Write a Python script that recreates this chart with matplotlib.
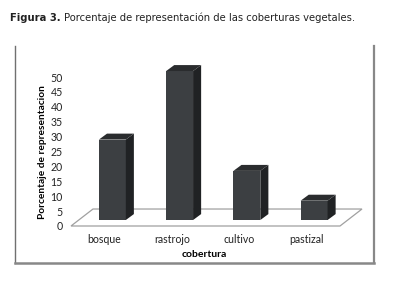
import matplotlib
matplotlib.use('Agg')
import matplotlib.pyplot as plt
from matplotlib import font_manager
from matplotlib.patches import Polygon
from matplotlib.lines import Line2D

categorias = ['bosque', 'rastrojo', 'cultivo', 'pastizal']
porcentajes = [27, 50, 16.5, 6.5]
yticks = [0, 5, 10, 15, 20, 25, 30, 35, 40, 45, 50]

plt.rcParams['font.family'] = ['Lato', 'DejaVu Sans']

# fuentes angostas para el titulo, si existen
angosta_r = angosta_b = None
for f in font_manager.fontManager.ttflist:
    n = f.fname.lower().rsplit('/', 1)[-1]
    if ('narrow' in n or 'condensed' in n) and 'oblique' not in n and 'italic' not in n:
        if 'bold' in n:
            angosta_b = angosta_b or f.fname
        else:
            angosta_r = angosta_r or f.fname

W, H = 409, 295
fig = plt.figure(figsize=(W / 100, H / 100), dpi=100)
fig.patch.set_facecolor('white')

# ejes en pixeles: x 71..340, y 226 (0) .. 77 (50)
ax = fig.add_axes([71 / W, (H - 226) / H, 269 / W, 149 / H])
ax.set_xlim(-0.5, len(categorias) - 0.5)
ax.set_ylim(0, 50)
for s in ax.spines.values():
    s.set_visible(False)
ax.patch.set_alpha(0)

# profundidad del piso y de las barras (en unidades de datos)
piso_dx, piso_dy = 0.327, 5.7
barra_off_x, barra_off_y = 0.115, 2.0
barra_dx, barra_dy = 0.12, 2.0
ancho = 0.40

x0, x1 = -0.5, len(categorias) - 0.5
piso = Polygon([(x0, 0), (x1, 0), (x1 + piso_dx, piso_dy), (x0 + piso_dx, piso_dy)],
               closed=True, facecolor='white', edgecolor='#a0a0a0', lw=0.9,
               clip_on=False, zorder=1)
ax.add_patch(piso)

frente = '#3c3f42'
lado = '#202224'
techo = '#2a2c2e'
for i, v in enumerate(porcentajes):
    xl = i - ancho / 2 + barra_off_x
    xr = xl + ancho
    yb = barra_off_y
    yt = yb + v
    ax.bar(xl + ancho / 2, v, width=ancho, bottom=yb, color=frente,
           clip_on=False, zorder=3)
    ax.add_patch(Polygon([(xr, yb), (xr + barra_dx, yb + barra_dy),
                          (xr + barra_dx, yt + barra_dy), (xr, yt)],
                         closed=True, facecolor=lado, edgecolor='none',
                         clip_on=False, zorder=3))
    ax.add_patch(Polygon([(xl, yt), (xr, yt), (xr + barra_dx, yt + barra_dy),
                          (xl + barra_dx, yt + barra_dy)],
                         closed=True, facecolor=techo, edgecolor='none',
                         clip_on=False, zorder=3))

ax.set_yticks(yticks)
ax.set_xticks(range(len(categorias)))
ax.set_xticklabels(categorias)
ax.tick_params(axis='both', length=0, labelsize=7.6, colors='#222222')
ax.tick_params(axis='y', pad=6)
ax.tick_params(axis='x', pad=6)

ax.set_ylabel('Porcentaje de representacion', fontsize=7.3, fontweight='bold')
ax.yaxis.set_label_coords(-0.089, 0.497)
ax.set_xlabel('cobertura', fontsize=7.5, fontweight='bold')
ax.xaxis.set_label_coords(0.494, -0.163)

# marco del grafico
def px(x, y):
    return x / W, 1 - y / H

for (xa, ya), (xb, yb), c, lw in [((15, 46), (15, 263), '#707070', 1.0),
                                  ((374, 46), (374, 263), '#888888', 1.6),
                                  ((15, 263), (374, 263), '#888888', 1.8)]:
    (fx0, fy0), (fx1, fy1) = px(xa, ya), px(xb, yb)
    fig.add_artist(Line2D([fx0, fx1], [fy0, fy1], color=c, lw=lw))

# titulo: ajustar ancho al de la referencia (x 10..357)
titulo_kw = dict(va='center', color='#222222')
if angosta_r and angosta_b:
    fp_b = font_manager.FontProperties(fname=angosta_b, size=10)
    fp_r = font_manager.FontProperties(fname=angosta_r, size=10)
else:
    fp_b = font_manager.FontProperties(family='Liberation Sans', weight='bold', size=10)
    fp_r = font_manager.FontProperties(family='Liberation Sans', size=10)

t1 = fig.text(10 / W, 1 - 18 / H, 'Figura 3.', fontproperties=fp_b, **titulo_kw)
t2 = fig.text(0, 1 - 18 / H, 'Porcentaje de representación de las coberturas vegetales.',
              fontproperties=fp_r, **titulo_kw)
fig.canvas.draw()
r = fig.canvas.get_renderer()
total = t1.get_window_extent(r).width + 3 + t2.get_window_extent(r).width
escala = 347 / total
for t in (t1, t2):
    t.set_fontsize(10 * escala)
fig.canvas.draw()
bb = t1.get_window_extent(r)
t2.set_x((bb.x1 + 3) / W)

fig.savefig('out.png', dpi=100)
